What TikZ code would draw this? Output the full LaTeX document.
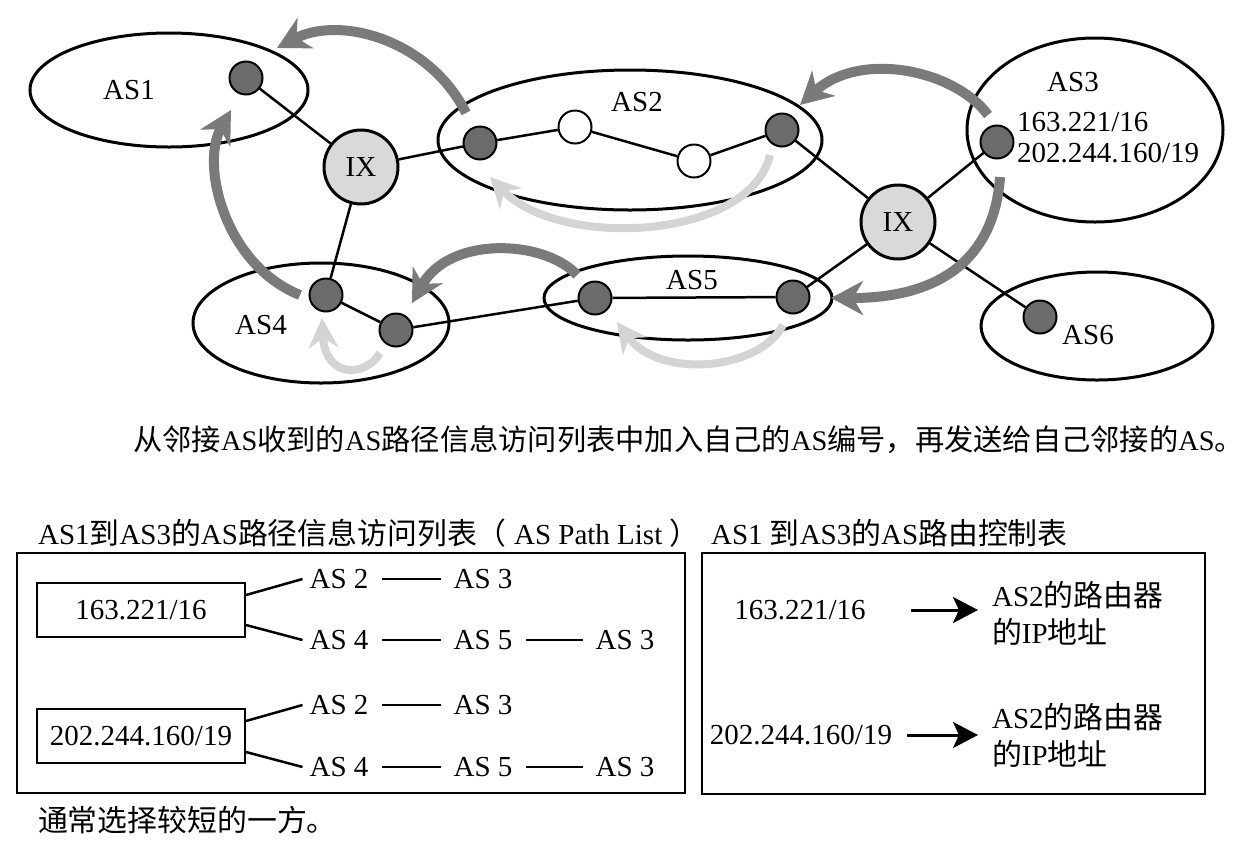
\documentclass[tikz,border=0pt]{standalone}
\usepackage{fontspec}
\setmainfont{Liberation Serif}
\newfontfamily\cjk[Scale=1.03]{Noto Sans CJK SC}
\usetikzlibrary{shapes.geometric,arrows.meta,positioning}

\definecolor{routergray}{gray}{0.42}
\definecolor{ixgray}{gray}{0.85}
\definecolor{flowdark}{gray}{0.48}
\definecolor{flowlight}{gray}{0.83}

\begin{document}
\begin{tikzpicture}[x=0.5pt, y=-0.5pt,
    font=\fontsize{14.5}{15.5}\selectfont,
    asarea/.style={shape=ellipse, draw=black, line width=1.5pt, inner sep=0pt},
    router/.style={shape=circle, draw=black, line width=1pt, fill=routergray, minimum size=16.5pt, inner sep=0pt},
    idle/.style={router, fill=white},
    ixnode/.style={shape=circle, draw=black, line width=1.5pt, fill=ixgray, minimum size=37pt, inner sep=0pt},
    link/.style={draw=black, line width=1.25pt},
    flow/.style={draw=flowdark, line width=5pt, -{Stealth[length=16pt, width=17pt, inset=5pt]}},
    back/.style={draw=flowlight, line width=4pt, -{Stealth[length=15pt, width=15pt, inset=5pt]}},
    netbox/.style={shape=rectangle, draw=black, line width=1pt, minimum width=104pt, minimum height=27pt},
    frame/.style={shape=rectangle, draw=black, line width=1.1pt},
    hopline/.style={draw=black, line width=1.3pt, shorten <=3.5pt, shorten >=3pt},
    tblarrow/.style={draw=black, line width=1.5pt, -{Stealth[length=12.5pt, width=13pt, inset=3pt]}}]
        \useasboundingbox (0,0) rectangle (1248,853);
        \fill[white] (0,0) rectangle (1248,853);

        % autonomous systems
        \node[asarea, minimum width=139pt, minimum height=57pt] (as1) at (169,90) {};
        \node[asarea, minimum width=192pt, minimum height=70pt] (as2) at (630,140) {};
        \node[asarea, minimum width=128pt, minimum height=92pt] (as3) at (1095,130) {};
        \node[asarea, minimum width=128pt, minimum height=60pt] (as4) at (321,323) {};
        \node[asarea, minimum width=144pt, minimum height=42pt] (as5) at (688,298) {};
        \node[asarea, minimum width=116pt, minimum height=54pt] (as6) at (1097,326) {};

        \node (as1-label) at (129,90) {AS1};
        \node (as2-label) at (637,102) {AS2};
        \node (as3-label) at (1073,82) {AS3};
        \node (as4-label) at (261,325) {AS4};
        \node (as5-label) at (692,280) {AS5};
        \node (as6-label) at (1088,335) {AS6};
        \node[anchor=west, align=left] (as3-nets) at (1010,138) {163.221/16\\202.244.160/19};

        % routers and exchange points
        \node[router] (as1-r) at (246,78) {};
        \node[ixnode] (ix-a) at (361,167) {IX};
        \node[router] (as2-r1) at (480,143) {};
        \node[idle] (as2-w1) at (575,127) {};
        \node[idle] (as2-w2) at (694,161) {};
        \node[router] (as2-r2) at (782,130) {};
        \node[ixnode] (ix-b) at (898,222) {IX};
        \node[router] (as3-r) at (997,142) {};
        \node[router] (as4-r1) at (326,295) {};
        \node[router] (as4-r2) at (396,330) {};
        \node[router] (as5-r1) at (595,298) {};
        \node[router] (as5-r2) at (793,297) {};
        \node[router] (as6-r) at (1040,317) {};

        \path[link]
        (as1-r) edge (ix-a)
        (ix-a) edge (as2-r1)
        (as2-r1) edge (as2-w1)
        (as2-w1) edge (as2-w2)
        (as2-w2) edge (as2-r2)
        (as2-r2) edge (ix-b)
        (ix-b) edge (as3-r)
        (ix-b) edge (as5-r2)
        (ix-b) edge (as6-r)
        (ix-a) edge (as4-r1)
        (as4-r1) edge (as4-r2)
        (as4-r2) edge (as5-r1)
        (as5-r1) edge (as5-r2)
        ;

        % path announcements
        \coordinate (f1-s) at (466,113);
        \coordinate (f1-e) at (277,48);
        \coordinate (f2-s) at (300,295);
        \coordinate (f2-e) at (231,110);
        \coordinate (f3-s) at (577,275);
        \coordinate (f3-e) at (412,303);
        \coordinate (f4-s) at (988,115);
        \coordinate (f4-e) at (800,105);
        \coordinate (f5-s) at (1000,177);
        \coordinate (f5-e) at (831,298);
        \coordinate (b1-s) at (770,155);
        \coordinate (b1-e) at (490,177);
        \coordinate (b2-s) at (783,325);
        \coordinate (b2-e) at (617,322);
        \coordinate (b3-s) at (380,353);
        \coordinate (b3-e) at (322,318);

        \draw[back] (b1-s) .. controls (750,240) and (560,250) .. (b1-e);
        \draw[back] (b2-s) .. controls (760,370) and (660,380) .. (b2-e);
        \draw[back] (b3-s) .. controls (365,378) and (325,378) .. (b3-e);
        \draw[flow] (f1-s) .. controls (430,40) and (340,15) .. (f1-e);
        \draw[flow] (f2-s) .. controls (225,265) and (200,165) .. (f2-e);
        \draw[flow] (f3-s) .. controls (545,240) and (450,235) .. (f3-e);
        \draw[flow] (f4-s) .. controls (955,70) and (860,50) .. (f4-e);
        \draw[flow] (f5-s) .. controls (995,250) and (950,298) .. (f5-e);

        \node[anchor=west, inner sep=0pt, font=\fontsize{14.2}{15.5}\selectfont] (caption) at (133,440) {{\cjk 从邻接}AS{\cjk 收到的}AS{\cjk 路径信息访问列表中加入自己的}AS{\cjk 编号，再发送给自己邻接的}AS{\cjk 。}};

        % AS path list
        \node[anchor=west] (list-title) at (31,533) {AS1{\cjk 到}AS3{\cjk 的}AS{\cjk 路径信息访问列表（} AS Path List {\cjk ）}};
        \node[frame, minimum width=334pt, minimum height=120pt] (list-box) at (351,673) {};
        \node[netbox] (pfx-a) at (141,610) {163.221/16};
        \node[netbox] (pfx-b) at (141,736) {202.244.160/19};

        \node (hop-a1) at (339,579) {AS 2};
        \node (hop-a2) at (483,579) {AS 3};
        \node (hop-b1) at (339,640) {AS 4};
        \node (hop-b2) at (483,640) {AS 5};
        \node (hop-b3) at (625,640) {AS 3};
        \node (hop-c1) at (339,705) {AS 2};
        \node (hop-c2) at (483,705) {AS 3};
        \node (hop-d1) at (339,767) {AS 4};
        \node (hop-d2) at (483,767) {AS 5};
        \node (hop-d3) at (625,767) {AS 3};

        \draw[link] ([yshift=7.5pt]pfx-a.east) -- (hop-a1.west);
        \draw[link] ([yshift=-7.5pt]pfx-a.east) -- (hop-b1.west);
        \draw[link] ([yshift=7.5pt]pfx-b.east) -- (hop-c1.west);
        \draw[link] ([yshift=-8pt]pfx-b.east) -- (hop-d1.west);
        \draw[hopline] (hop-a1) -- (hop-a2);
        \draw[hopline] (hop-b1) -- (hop-b2);
        \draw[hopline] (hop-b2) -- (hop-b3);
        \draw[hopline] (hop-c1) -- (hop-c2);
        \draw[hopline] (hop-d1) -- (hop-d2);
        \draw[hopline] (hop-d2) -- (hop-d3);

        \node[anchor=west] (note) at (31,820) {{\cjk 通常选择较短的一方。}};

        % AS routing table
        \node[anchor=west] (ctrl-title) at (704,533) {AS1 {\cjk 到}AS3{\cjk 的}AS{\cjk 路由控制表}};
        \node[frame, minimum width=251.5pt, minimum height=120.5pt] (ctrl-box) at (953.5,673.5) {};
        \node (route-a) at (800,610) {163.221/16};
        \node (route-b) at (801,735) {202.244.160/19};
        \node[anchor=west, align=left, font=\fontsize{14.5}{18.5}\selectfont] (gw-a) at (985,613) {AS2{\cjk 的路由器}\\{\cjk 的}IP{\cjk 地址}};
        \node[anchor=west, align=left, font=\fontsize{14.5}{18.5}\selectfont] (gw-b) at (985,735) {AS2{\cjk 的路由器}\\{\cjk 的}IP{\cjk 地址}};
        \draw[tblarrow, shorten <=19pt, shorten >=3.5pt] (route-a) -- (gw-a.west |- route-a);
        \draw[tblarrow, shorten <=4pt, shorten >=3.5pt] (route-b) -- (gw-b.west |- route-b);
\end{tikzpicture}
\end{document}
